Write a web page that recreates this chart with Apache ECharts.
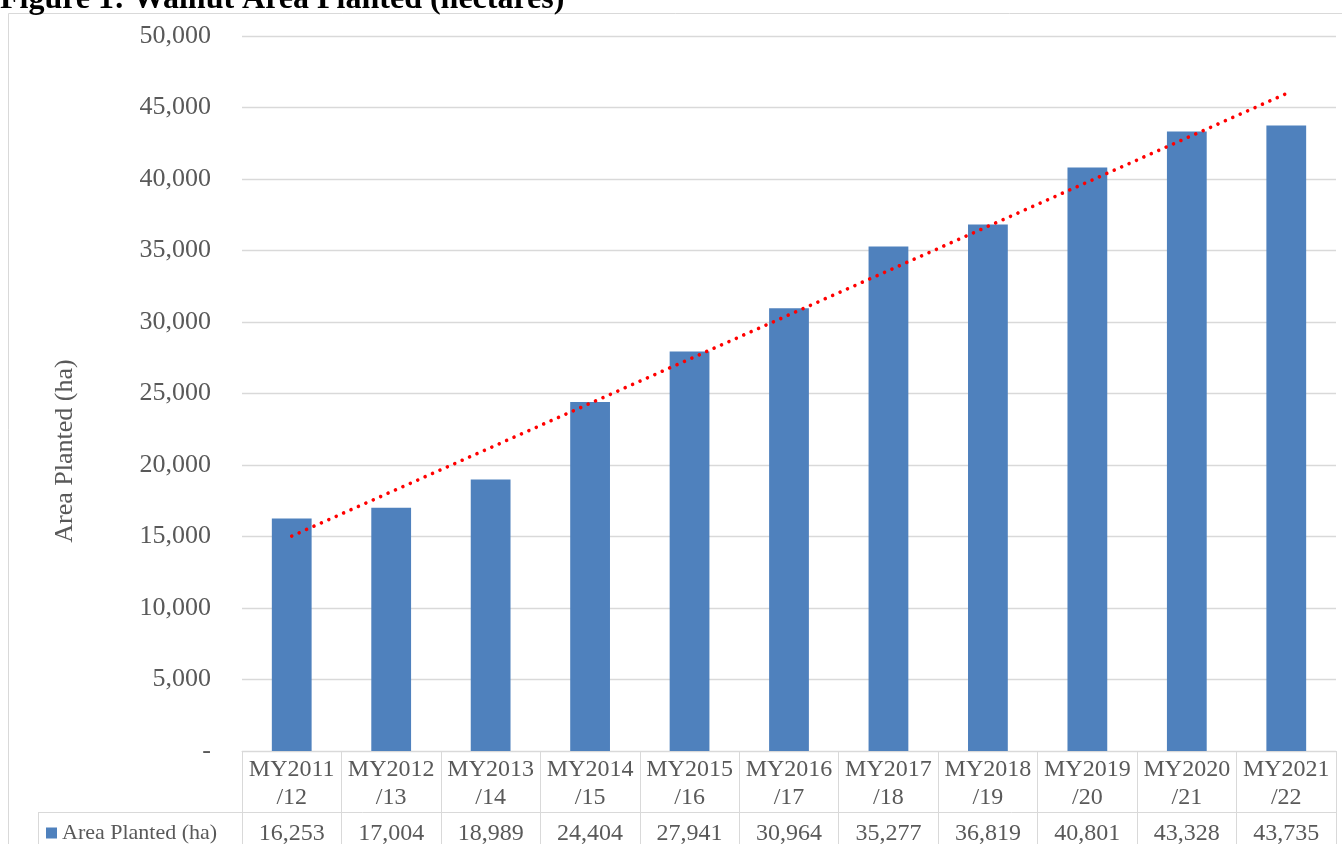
<!DOCTYPE html>
<html>
<head>
<meta charset="utf-8">
<script src="https://cdn.jsdelivr.net/npm/echarts@6/dist/echarts.min.js"></script>
<style>
html,body{margin:0;padding:0;background:#fff;}
#c{width:1342px;height:844px;}
</style>
</head>
<body>
<div id="c"></div>
<script>
// ---- data ----
var categories = ['MY2011/12','MY2012/13','MY2013/14','MY2014/15','MY2015/16','MY2016/17','MY2017/18','MY2018/19','MY2019/20','MY2020/21','MY2021/22'];
var areaPlanted = [16253, 17004, 18989, 24404, 27941, 30964, 35277, 36819, 40801, 43328, 43735];
var trendEnds = [15030, 45970]; // linear trend line values at first and last category
var yTicks = { min: 0, max: 50000, interval: 5000 };
var seriesName = 'Area Planted (ha)';
var titleText = 'Figure 1: Walnut Area Planted (hectares)';

var FONT = '"Liberation Serif", "Times New Roman", serif';
var GRAY = '#595959';
var LINE = '#d9d9d9';

function fmt(v){ return v.toLocaleString('en-US'); }

var chart = echarts.init(document.getElementById('c'), null, {renderer:'canvas'});

var option = {
  backgroundColor: '#ffffff',
  animation: false,
  grid: { left: 242, right: 6, top: 36, bottom: 93, containLabel: false, outerBoundsMode: 'none' },
  legend: {
    data: [seriesName],
    left: 46, top: 822, padding: 0,
    itemWidth: 11, itemHeight: 11, icon: 'rect',
    textStyle: { fontFamily: FONT, fontSize: 22, color: GRAY }
  },
  xAxis: [{
    type: 'category',
    data: categories,
    position: 'bottom',
    axisLine: { show: true, lineStyle: { color: LINE, width: 1 } },
    axisTick: { show: true, length: 100, interval: 0, alignWithLabel: false, lineStyle: { color: LINE, width: 1 } },
    axisLabel: {
      interval: 0, hideOverlap: false, margin: 5,
      fontFamily: FONT, fontSize: 24, lineHeight: 28, color: GRAY,
      formatter: function(v){ return v.replace('/', '\n/'); }
    },
    splitLine: { show: false }
  }, {
    type: 'category',
    data: areaPlanted.map(fmt),
    position: 'bottom',
    axisLine: { show: false },
    axisTick: { show: false },
    axisLabel: {
      interval: 0, hideOverlap: false, margin: 69,
      fontFamily: FONT, fontSize: 24, lineHeight: 28, color: GRAY
    },
    splitLine: { show: false }
  }],
  yAxis: {
    type: 'value',
    min: yTicks.min, max: yTicks.max, interval: yTicks.interval,
    axisLine: { show: false },
    axisTick: { show: false },
    axisLabel: {
      margin: 31, fontFamily: FONT, fontSize: 26, color: GRAY,
      formatter: function(v){ return v === 0 ? '-' : fmt(v); }
    },
    splitLine: { show: true, lineStyle: { color: LINE, width: 1.3 } }
  },
  series: [{
    name: seriesName,
    type: 'bar',
    xAxisIndex: 0,
    data: areaPlanted,
    barWidth: '40%',
    itemStyle: { color: '#4F81BD' },
    markLine: {
      silent: true,
      symbol: ['none', 'none'],
      label: { show: false },
      lineStyle: { color: '#FF0000', width: 3.6, type: [0.01, 8.1], cap: 'round' },
      data: [[
        { coord: [categories[0], trendEnds[0]] },
        { coord: [categories[categories.length - 1], trendEnds[1]] }
      ]]
    }
  }]
};
chart.setOption(option);

// table decorations positioned from the axis scale
var x0 = chart.convertToPixel({xAxisIndex:0}, categories[0]);
var x1 = chart.convertToPixel({xAxisIndex:0}, categories[1]);
var band = x1 - x0;
var leftEdge = x0 - band / 2;
var rightEdge = leftEdge + band * categories.length;
var yZero = chart.convertToPixel({yAxisIndex:0}, 0);
var rowLine = yZero + 61.5;

chart.setOption({
  graphic: [
    { type: 'rect', shape: { x: 8.5, y: 13.5, width: 1340, height: 840 }, style: { fill: 'none', stroke: LINE, lineWidth: 1 }, silent: true },
    { type: 'line', shape: { x1: 38, y1: rowLine, x2: rightEdge, y2: rowLine }, style: { stroke: LINE, lineWidth: 1 }, silent: true },
    { type: 'line', shape: { x1: 38.5, y1: rowLine, x2: 38.5, y2: 860 }, style: { stroke: LINE, lineWidth: 1 }, silent: true },
    { type: 'text', x: 0, y: 0, style: { text: titleText, font: 'bold 32px ' + FONT, fill: '#000', align: 'left', verticalAlign: 'middle' }, silent: true },
    { type: 'text', x: 65, y: 451, rotation: Math.PI / 2, style: { text: seriesName, font: '26px ' + FONT, fill: GRAY, align: 'center', verticalAlign: 'middle' }, silent: true }
  ]
});
</script>
</body>
</html>
